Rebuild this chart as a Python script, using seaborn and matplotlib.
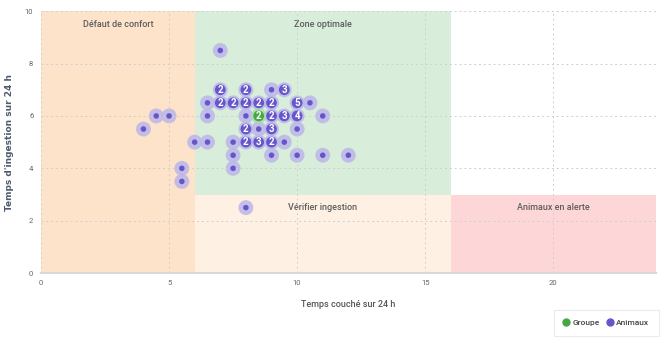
import matplotlib
matplotlib.use("Agg")
import matplotlib.pyplot as plt
import seaborn as sns
import pandas as pd
from matplotlib.lines import Line2D

# ---- data ----
anim_x = [4, 4.5, 5, 5.5, 5.5, 6, 6.5, 6.5, 6.5, 7, 7, 7, 7.5, 7.5, 7.5, 7.5,
          8, 8, 8, 8, 8, 8, 8.5, 8.5, 8.5, 9, 9, 9, 9, 9, 9,
          9.5, 9.5, 9.5, 10, 10, 10, 10, 10.5, 11, 11, 12]
anim_y = [5.5, 6, 6, 4, 3.5, 5, 5, 6, 6.5, 8.5, 7, 6.5, 6.5, 5, 4.5, 4,
          7, 6.5, 6, 5.5, 5, 2.5, 6.5, 5.5, 5, 7, 6.5, 6, 5.5, 5, 4.5,
          7, 6, 5, 6.5, 6, 5.5, 4.5, 6.5, 6, 4.5, 4.5]
anim_n = [1, 1, 1, 1, 1, 1, 1, 1, 1, 1, 2, 2, 2, 1, 1, 1,
          2, 2, 1, 2, 2, 1, 2, 1, 3, 1, 2, 2, 3, 2, 1,
          3, 3, 1, 5, 4, 1, 1, 1, 1, 1, 1]
group_x = [8.5]
group_y = [6]
group_n = [2]

zone_names = ["Défaut de confort", "Zone optimale", "Vérifier ingestion", "Animaux en alerte"]
zone_x0 = [0, 6, 6, 16]
zone_x1 = [6, 16, 16, 24]
zone_y0 = [0, 3, 0, 0]
zone_y1 = [10, 10, 3, 3]
zone_colors = ["#FDE3C9", "#D8EEDA", "#FEF1E3", "#FDD7D7"]
zone_label_y = [9.5, 9.5, 2.5, 2.5]

x_ticks = [0, 5, 10, 15, 20]
y_ticks = [0, 2, 4, 6, 8, 10]
x_label = "Temps couché sur 24 h"
y_label = "Temps d'ingestion sur 24 h"

sns.set_style("white")
plt.rcParams["font.family"] = ["Roboto", "DejaVu Sans"]

fig = plt.figure(figsize=(6.61, 3.38), dpi=100)
ax = fig.add_axes([0.062, 0.192, 0.930, 0.775])

for name, x0, x1, y0, y1, c, ly in zip(zone_names, zone_x0, zone_x1, zone_y0, zone_y1,
                                       zone_colors, zone_label_y):
    ax.fill_between([x0, x1], y0, y1, color=c, lw=0, zorder=0)
    ax.text((x0 + x1) / 2, ly, name, ha="center", va="center", fontsize=6.5,
            color="#5e5e5e", fontweight="medium", zorder=1)

ax.set_xlim(0, 24)
ax.set_ylim(0, 10)
ax.set_xticks(x_ticks)
ax.set_yticks(y_ticks)
ax.grid(True, ls=(0, (2, 3)), color="#cfcfcf", lw=0.7, zorder=0.5)
ax.set_axisbelow(False)

df_a = pd.DataFrame({"x": anim_x, "y": anim_y, "n": anim_n})
df_g = pd.DataFrame({"x": group_x, "y": group_y, "n": group_n})

# halos
sns.scatterplot(data=df_a, x="x", y="y", ax=ax, s=115, color="#bcb6ea", alpha=0.85,
                edgecolor="none", zorder=2, legend=False)
sns.scatterplot(data=df_g, x="x", y="y", ax=ax, s=115, color="#a9dbab", alpha=0.9,
                edgecolor="none", zorder=2, legend=False)
# inner dots
single = df_a[df_a["n"] == 1]
multi = df_a[df_a["n"] > 1]
sns.scatterplot(data=single, x="x", y="y", ax=ax, s=16, color="#6556cc",
                edgecolor="none", zorder=3, legend=False)
sns.scatterplot(data=multi, x="x", y="y", ax=ax, s=60, color="#6556cc",
                edgecolor="none", zorder=3, legend=False)
sns.scatterplot(data=df_g, x="x", y="y", ax=ax, s=60, color="#45a845",
                edgecolor="none", zorder=3, legend=False)
for d in (multi, df_g):
    for _, r in d.iterrows():
        ax.text(r["x"], r["y"], str(int(r["n"])), ha="center", va="center",
                fontsize=7, fontweight="bold", color="white", zorder=4)

ax.set_xlabel(x_label, fontsize=6.5, color="#555555", fontweight="medium", labelpad=10)
ax.set_ylabel(y_label, fontsize=6.5, color="#4d5b6e", fontweight="bold", labelpad=8,
              family="DejaVu Sans")
ax.tick_params(axis="both", labelsize=5.5, colors="#666666", length=2, width=0.6)
ax.tick_params(axis="x", length=0, pad=5)
for s in ["top", "right", "left"]:
    ax.spines[s].set_visible(False)
ax.spines["bottom"].set_color("#d9d9d9")
ax.spines["bottom"].set_linewidth(1.5)

handles = [Line2D([], [], marker="o", ls="", color="#45a845", markersize=5, label="Groupe"),
           Line2D([], [], marker="o", ls="", color="#6556cc", markersize=5, label="Animaux")]
leg = fig.legend(handles=handles, loc="lower right", bbox_to_anchor=(1.0, 0.0), ncol=2,
                 prop={"size": 6, "weight": "medium"}, frameon=True, handletextpad=0.5,
                 columnspacing=0.9, borderpad=1.1, handlelength=0.6, borderaxespad=0.3)
leg.get_frame().set_edgecolor("#e6e6e6")
leg.get_frame().set_linewidth(0.8)
leg.get_frame().set_boxstyle("square", pad=0)
for t in leg.get_texts():
    t.set_color("#444444")

fig.savefig("out.png", dpi=100)
